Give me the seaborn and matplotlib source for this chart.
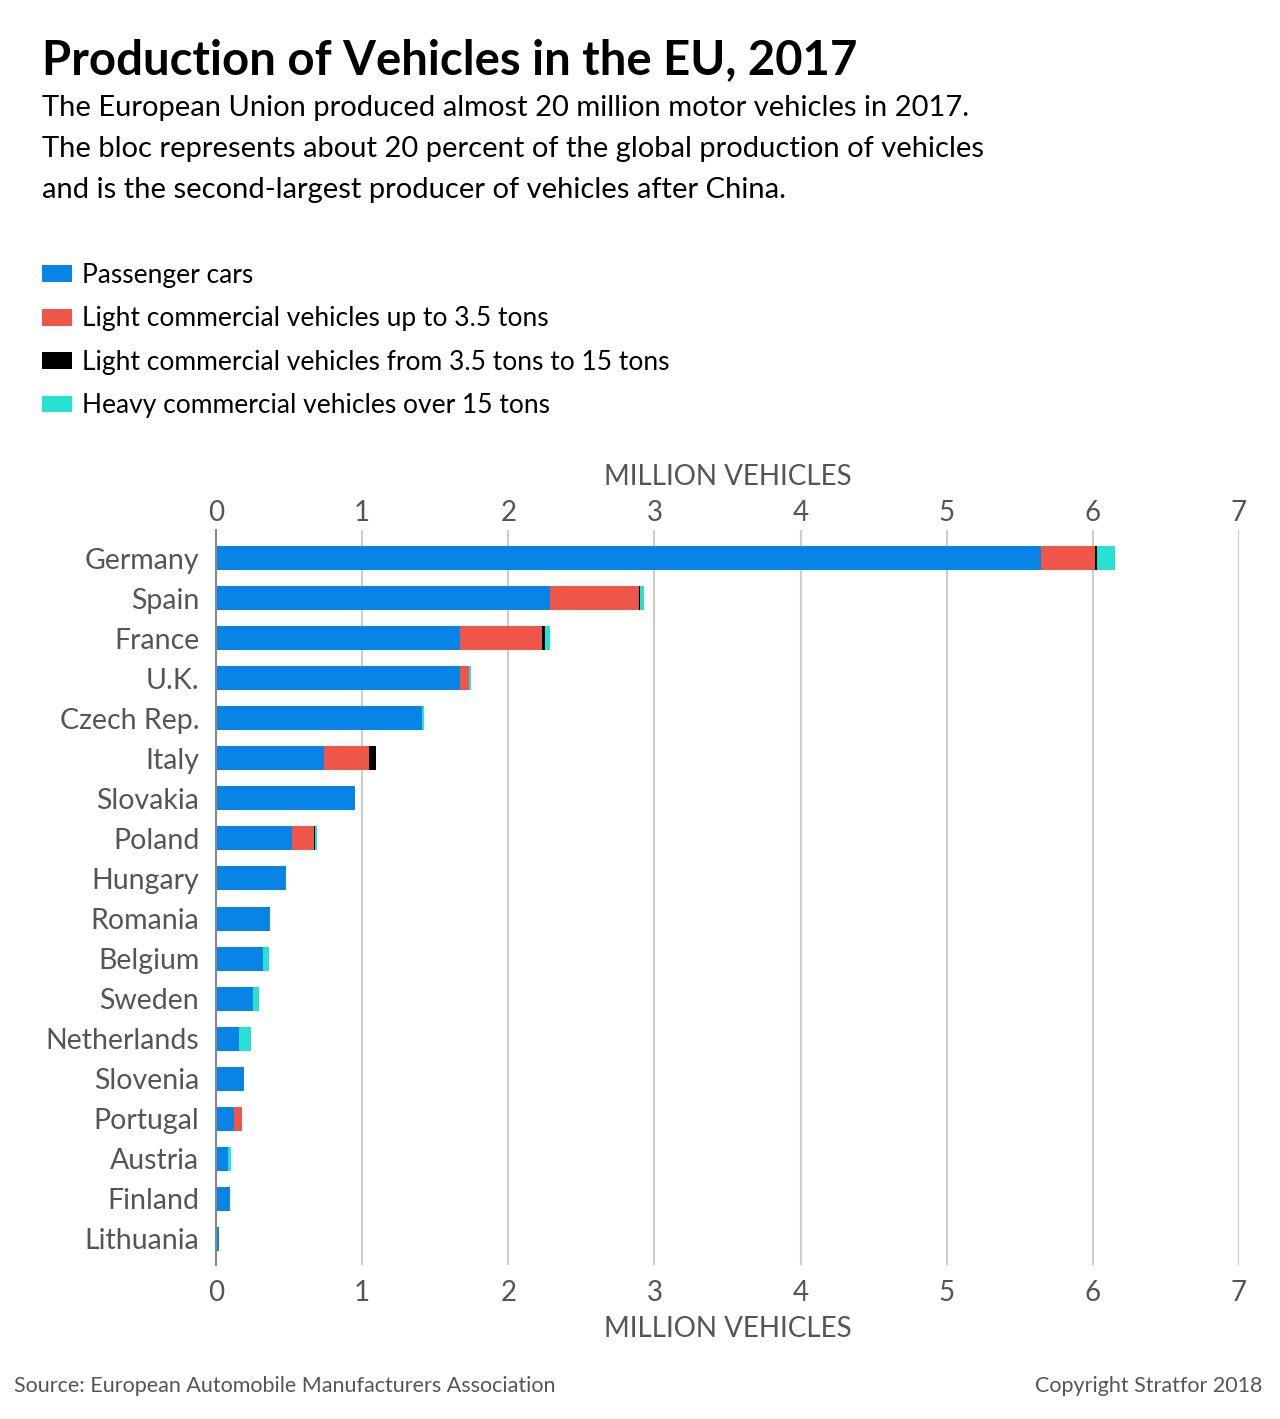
import numpy as np
import pandas as pd
import matplotlib
matplotlib.use("Agg")
import matplotlib.pyplot as plt
from matplotlib.patches import Patch
import seaborn as sns

# ──────────────────────────────
# Data (million vehicles, 2017)
# ──────────────────────────────
countries = ["Germany", "Spain", "France", "U.K.", "Czech Rep.", "Italy", "Slovakia",
             "Poland", "Hungary", "Romania", "Belgium", "Sweden", "Netherlands",
             "Slovenia", "Portugal", "Austria", "Finland", "Lithuania"]
passenger = [5.645, 2.285, 1.670, 1.668, 1.410, 0.742, 0.950, 0.517, 0.478, 0.369,
             0.319, 0.255, 0.155, 0.189, 0.126, 0.084, 0.093, 0.020]
lcv_light = [0.370, 0.610, 0.558, 0.063, 0.003, 0.305, 0.0, 0.155, 0.0, 0.0,
             0.0, 0.0, 0.0, 0.0, 0.049, 0.0, 0.0, 0.0]
lcv_mid = [0.015, 0.004, 0.021, 0.002, 0.0, 0.048, 0.0, 0.002, 0.0, 0.0,
           0.0, 0.0, 0.0, 0.0, 0.0, 0.0, 0.0, 0.0]
heavy = [0.120, 0.029, 0.036, 0.012, 0.011, 0.0, 0.0, 0.014, 0.0, 0.0,
         0.045, 0.041, 0.086, 0.0, 0.0, 0.016, 0.0, 0.0]

series_names = ["Passenger cars",
                "Light commercial vehicles up to 3.5 tons",
                "Light commercial vehicles from 3.5 tons to 15 tons",
                "Heavy commercial vehicles over 15 tons"]
colors = ["#0883E6", "#EE564A", "#000000", "#26E2D3"]

df = pd.DataFrame({"country": countries, "s0": passenger, "s1": lcv_light,
                   "s2": lcv_mid, "s3": heavy})
df["c0"] = df["s0"]
df["c1"] = df["c0"] + df["s1"]
df["c2"] = df["c1"] + df["s2"]
df["c3"] = df["c2"] + df["s3"]

# ──────────────────────────────
# Figure
# ──────────────────────────────
sns.set_theme(style="white")
plt.rcParams["font.family"] = ["Lato", "DejaVu Sans"]

fig = plt.figure(figsize=(12.8, 14.19), dpi=100)
ax = fig.add_axes([216 / 1280, 1 - 1265 / 1419, (1239 - 216) / 1280, (1265 - 530) / 1419])

# stacked bars: draw cumulative totals from the back to the front
for col, color in zip(["c3", "c2", "c1", "c0"], colors[::-1]):
    sns.barplot(data=df, x=col, y="country", orient="h", color=color,
                width=0.6, saturation=1, linewidth=0, ax=ax, zorder=3)

ax.set_xlim(0, 7)
ax.set_ylim(17.65, -0.7)
ax.set_xticks(range(8))
ax.grid(axis="x", color="#cccccc", linewidth=1.5, zorder=0)
ax.grid(axis="y", visible=False)
for s in ["top", "right", "bottom"]:
    ax.spines[s].set_visible(False)
ax.spines["left"].set_color("#888888")
ax.spines["left"].set_linewidth(1.5)
ax.spines["left"].set_zorder(4)

tick_color = "#555555"
ax.tick_params(axis="y", length=0, pad=12, labelsize=20.5, labelcolor=tick_color)
ax.tick_params(axis="x", length=0, pad=11, labelsize=20, labelcolor=tick_color)
ax.set_ylabel("")
ax.set_xlabel("MILLION VEHICLES", fontsize=20, color=tick_color, labelpad=7)

top = ax.secondary_xaxis("top")
top.set_xticks(range(8))
top.tick_params(length=0, pad=3, labelsize=20, labelcolor=tick_color)
top.spines["top"].set_visible(False)
top.set_xlabel("MILLION VEHICLES", fontsize=20, color=tick_color, labelpad=11)

# ──────────────────────────────
# Titles, legend, footer
# ──────────────────────────────
fig.text(42 / 1280, 1 - 60 / 1419, "Production of Vehicles in the EU, 2017",
         fontsize=34, fontweight="bold", color="black", va="center", ha="left")
subtitle = ["The European Union produced almost 20 million motor vehicles in 2017.",
            "The bloc represents about 20 percent of the global production of vehicles",
            "and is the second-largest producer of vehicles after China."]
for i, line in enumerate(subtitle):
    fig.text(42 / 1280, 1 - (108 + 41 * i) / 1419, line, fontsize=21,
             color="black", va="center", ha="left")

handles = [Patch(facecolor=c, edgecolor="none") for c in colors]
fig.legend(handles, series_names, loc="upper left",
           bbox_to_anchor=(42 / 1280, 1 - 263 / 1419), frameon=False, borderpad=0,
           borderaxespad=0, fontsize=19, handlelength=1.15, handleheight=0.6,
           handletextpad=0.35, labelspacing=0.7, labelcolor="black")

fig.text(14 / 1280, 1 - 1386 / 1419, "Source: European Automobile Manufacturers Association",
         fontsize=15.5, color="#555555", va="center", ha="left")
fig.text(1262 / 1280, 1 - 1386 / 1419, "Copyright Stratfor 2018",
         fontsize=15.5, color="#555555", va="center", ha="right")

fig.savefig("out.png", dpi=100, facecolor="white")
